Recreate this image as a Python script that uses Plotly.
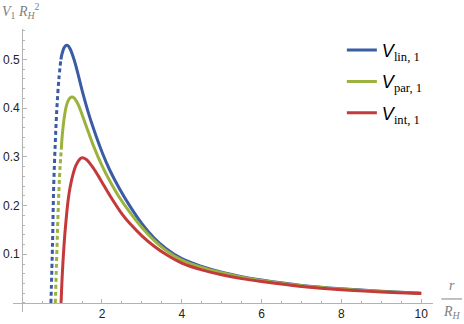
import plotly.graph_objects as go

# values (r / R_H, V_1 R_H^2)
r_lin_dash = [0.72, 0.76, 0.79, 0.83, 0.87, 0.92, 0.97]
v_lin_dash = [0.0, 0.12, 0.24, 0.33, 0.40, 0.46, 0.50]
r_lin = [0.97, 1.0, 1.05, 1.1, 1.15, 1.2, 1.3, 1.4, 1.5, 1.65, 1.8, 2.0, 2.2, 2.45, 2.7,
         3.0, 3.3, 3.6, 4.0, 4.5, 5.0, 5.5, 6.0, 7.0, 8.0, 9.0, 10.0]
v_lin = [0.50, 0.512, 0.524, 0.529, 0.528, 0.522, 0.50, 0.47, 0.437, 0.393, 0.355, 0.31, 0.272,
         0.233, 0.199, 0.163, 0.134, 0.112, 0.091, 0.075, 0.063, 0.054, 0.047, 0.036, 0.029,
         0.024, 0.020]

r_par_dash = [0.83, 0.86, 0.89, 0.92, 0.95, 0.98]
v_par_dash = [0.0, 0.08, 0.16, 0.23, 0.28, 0.315]
r_par = [0.98, 1.0, 1.05, 1.1, 1.15, 1.2, 1.25, 1.3, 1.4, 1.5, 1.65, 1.8, 2.0, 2.2, 2.45, 2.7,
         3.0, 3.3, 3.6, 4.0, 4.5, 5.0, 5.5, 6.0, 7.0, 8.0, 9.0, 10.0]
v_par = [0.315, 0.34, 0.378, 0.402, 0.415, 0.421, 0.423, 0.421, 0.408, 0.387, 0.353, 0.32,
         0.282, 0.25, 0.215, 0.186, 0.155, 0.129, 0.108, 0.088, 0.073, 0.062, 0.053, 0.046,
         0.0355, 0.0285, 0.0235, 0.0198]

r_int = [0.975, 1.0, 1.05, 1.1, 1.15, 1.2, 1.28, 1.35, 1.45, 1.5, 1.6, 1.74, 1.9, 2.0, 2.24,
         2.5, 2.7, 3.0, 3.3, 3.6, 4.0, 4.5, 5.0, 5.5, 6.0, 7.0, 8.0, 9.0, 10.0]
v_int = [0.0, 0.05, 0.12, 0.17, 0.21, 0.237, 0.266, 0.283, 0.296, 0.298, 0.295, 0.282, 0.262,
         0.248, 0.215, 0.183, 0.163, 0.138, 0.117, 0.10, 0.082, 0.068, 0.058, 0.05, 0.044,
         0.034, 0.027, 0.0225, 0.0195]

x_ticks = [2, 4, 6, 8, 10]
y_ticks = [0.1, 0.2, 0.3, 0.4, 0.5]

BLUE = '#3b5ba5'
GREEN = '#9bb33d'
RED = '#c4393a'
AXIS = '#b3b3b3'

x_range = [-0.23, 10.296]
y_range = [-0.0185, 0.5626]


def label(sub):
    return ('<span style="font-family:Liberation Sans"><i>V</i></span>'
            '<sub><span style="font-family:Liberation Serif">' + sub + '</span></sub>')


fig = go.Figure()

fig.add_trace(go.Scatter(x=r_lin_dash, y=v_lin_dash, mode='lines', showlegend=False,
                         line=dict(color=BLUE, width=3, dash='4px,3px', shape='spline')))
fig.add_trace(go.Scatter(x=r_par_dash, y=v_par_dash, mode='lines', showlegend=False,
                         line=dict(color=GREEN, width=3, dash='4px,3px', shape='spline')))

fig.add_trace(go.Scatter(x=r_lin, y=v_lin, mode='lines', name=label('lin, 1'), legendgroup='a',
                         line=dict(color=BLUE, width=3, shape='spline')))
fig.add_trace(go.Scatter(x=r_par, y=v_par, mode='lines', name=label('par, 1'), legendgroup='b',
                         line=dict(color=GREEN, width=3, shape='spline')))
fig.add_trace(go.Scatter(x=r_int, y=v_int, mode='lines', name=label('int, 1'), legendgroup='c',
                         line=dict(color=RED, width=3, shape='spline')))

fig.update_xaxes(range=x_range, showgrid=False, zeroline=False, showline=True, linecolor=AXIS,
                 anchor='free', position=(0 - y_range[0]) / (y_range[1] - y_range[0]),
                 automargin=False,
                 tickvals=x_ticks, ticks='inside', ticklen=4, tickcolor=AXIS,
                 minor=dict(dtick=0.5, tick0=0, ticks='inside', ticklen=2, tickcolor=AXIS),
                 tickfont=dict(family='Liberation Sans', size=12, color='#222'))
fig.update_yaxes(range=y_range, showgrid=False, zeroline=False, showline=True, linecolor=AXIS,
                 anchor='free', position=(0 - x_range[0]) / (x_range[1] - x_range[0]),
                 automargin=False,
                 tickvals=y_ticks, ticks='inside', ticklen=4, tickcolor=AXIS,
                 minor=dict(dtick=0.02, tick0=0, ticks='inside', ticklen=2, tickcolor=AXIS),
                 tickfont=dict(family='Liberation Sans', size=12, color='#222'))

# axis labels
fig.add_annotation(xref='paper', yref='paper', x=-0.031, y=1.063, xanchor='left', yanchor='middle',
                   showarrow=False,
                   text='<i>V</i><sub>1</sub> <i>R</i><sub><i>H</i></sub><sup>2</sup>',
                   font=dict(family='Liberation Serif', size=14, color='#808080'))
fig.add_annotation(xref='paper', yref='paper', x=1.0445, y=0.092, xanchor='center',
                   yanchor='middle', showarrow=False, text='<i>r</i>',
                   font=dict(family='Liberation Serif', size=14, color='#808080'))
fig.add_annotation(xref='paper', yref='paper', x=1.0445, y=-0.002, xanchor='center',
                   yanchor='middle', showarrow=False, text='<i>R</i><sub><i>H</i></sub>',
                   font=dict(family='Liberation Serif', size=14, color='#808080'))
fig.add_shape(type='line', xref='paper', yref='paper', x0=1.02, x1=1.069, y0=0.046, y1=0.046,
              line=dict(color='#808080', width=1))

fig.update_layout(
    width=464, height=324,
    margin=dict(l=13, r=31, t=29, b=12),
    plot_bgcolor='white', paper_bgcolor='white',
    legend=dict(x=0.783, y=0.99, xanchor='left', yanchor='top', tracegroupgap=5,
                font=dict(size=18, color='black'), bgcolor='rgba(0,0,0,0)'),
)

# the page body has a default 8px margin; drop it so the figure sits at the window corner
fig.write_html('out.html', config={'displayModeBar': False},
               post_script="document.body.style.margin='0';")
